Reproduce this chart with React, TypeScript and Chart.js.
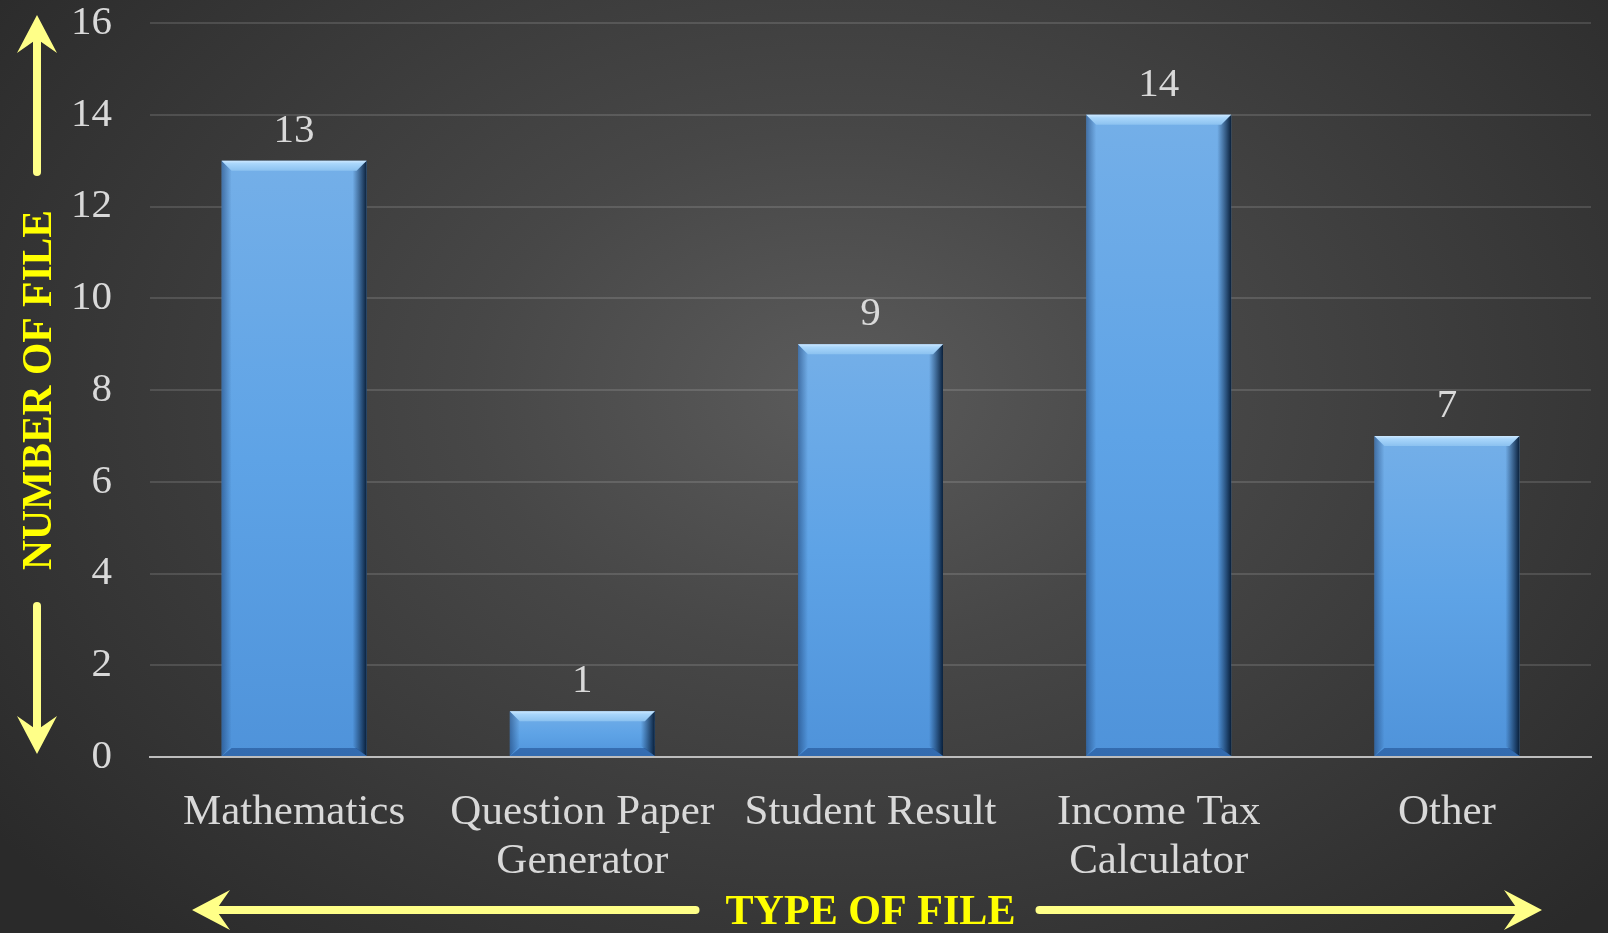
import React, { useEffect, useRef } from "react";
import { Chart, registerables } from "chart.js";

Chart.register(...registerables);

// ---- data ----
const categories: string[][] = [
  ["Mathematics"],
  ["Question Paper", "Generator"],
  ["Student Result"],
  ["Income Tax", "Calculator"],
  ["Other"],
];
const fileCounts: number[] = [13, 1, 9, 14, 7];
const yMin = 0;
const yMax = 16;
const yStep = 2;
const yTitle = "NUMBER OF FILE";
const xTitle = "TYPE OF FILE";

const SERIF = "'Liberation Serif', 'Times New Roman', serif";
const YELLOW = "#ffff00";
const ARROW = "#ffff88";
const LABEL = "#d9d9d9";

function drawArrow(ctx: CanvasRenderingContext2D, x1: number, y1: number, x2: number, y2: number) {
  const dx = x2 - x1;
  const dy = y2 - y1;
  const len = Math.hypot(dx, dy);
  const ux = dx / len;
  const uy = dy / len;
  const px = -uy;
  const py = ux;
  const headLen = 38;
  const notch = 24;
  const half = 20;
  ctx.save();
  ctx.strokeStyle = ARROW;
  ctx.fillStyle = ARROW;
  ctx.lineWidth = 8;
  ctx.lineCap = "round";
  ctx.beginPath();
  ctx.moveTo(x1, y1);
  ctx.lineTo(x2 - ux * notch, y2 - uy * notch);
  ctx.stroke();
  ctx.beginPath();
  ctx.moveTo(x2, y2);
  ctx.lineTo(x2 - ux * headLen + px * half, y2 - uy * headLen + py * half);
  ctx.lineTo(x2 - ux * notch, y2 - uy * notch);
  ctx.lineTo(x2 - ux * headLen - px * half, y2 - uy * headLen - py * half);
  ctx.closePath();
  ctx.fill();
  ctx.restore();
}

function drawCondensed(ctx: CanvasRenderingContext2D, text: string, cx: number, cy: number, targetW: number, rot: number) {
  ctx.save();
  ctx.translate(cx, cy);
  ctx.rotate(rot);
  const w = ctx.measureText(text).width;
  ctx.scale(targetW / w, 1);
  ctx.textAlign = "center";
  ctx.textBaseline = "middle";
  ctx.fillText(text, 0, 0);
  ctx.restore();
}

const decorPlugin = {
  id: "decor",
  afterDatasetsDraw(chart: any) {
    const ctx: CanvasRenderingContext2D = chart.ctx;
    const meta = chart.getDatasetMeta(0);
    const data = chart.data.datasets[0].data as number[];
    meta.data.forEach((bar: any, i: number) => {
      const { x, y, base, width } = bar.getProps(["x", "y", "base", "width"], true);
      const l = x - width / 2;
      const r = x + width / 2;
      const s = 10;
      ctx.save();
      // left bevel
      let g = ctx.createLinearGradient(l, 0, l + s, 0);
      g.addColorStop(0, "rgba(25,60,110,0.55)");
      g.addColorStop(1, "rgba(25,60,110,0)");
      ctx.fillStyle = g;
      ctx.beginPath();
      ctx.moveTo(l, y);
      ctx.lineTo(l + s, y + s);
      ctx.lineTo(l + s, base - s);
      ctx.lineTo(l, base);
      ctx.closePath();
      ctx.fill();
      // right bevel
      g = ctx.createLinearGradient(r - s - 4, 0, r, 0);
      g.addColorStop(0, "rgba(10,35,70,0)");
      g.addColorStop(1, "rgba(5,25,50,0.95)");
      ctx.fillStyle = g;
      ctx.beginPath();
      ctx.moveTo(r, y);
      ctx.lineTo(r, base);
      ctx.lineTo(r - s - 4, base - s);
      ctx.lineTo(r - s - 4, y + s);
      ctx.closePath();
      ctx.fill();
      // bottom bevel
      ctx.fillStyle = "rgba(30,75,140,0.55)";
      ctx.beginPath();
      ctx.moveTo(l, base);
      ctx.lineTo(r, base);
      ctx.lineTo(r - s, base - s + 2);
      ctx.lineTo(l + s, base - s + 2);
      ctx.closePath();
      ctx.fill();
      // top bevel
      g = ctx.createLinearGradient(0, y, 0, y + s);
      g.addColorStop(0, "#cfe9ff");
      g.addColorStop(0.3, "#a9d6fb");
      g.addColorStop(1, "#8cc2f0");
      ctx.fillStyle = g;
      ctx.beginPath();
      ctx.moveTo(l, y);
      ctx.lineTo(r, y);
      ctx.lineTo(r - s, y + s);
      ctx.lineTo(l + s, y + s);
      ctx.closePath();
      ctx.fill();
      ctx.restore();

      // value label
      ctx.save();
      ctx.fillStyle = LABEL;
      ctx.font = `41px ${SERIF}`;
      ctx.textAlign = "center";
      ctx.textBaseline = "alphabetic";
      ctx.fillText(String(data[i]), x, y - 19);
      ctx.restore();
    });
  },
  afterDraw(chart: any) {
    const ctx: CanvasRenderingContext2D = chart.ctx;
    const ca = chart.chartArea;
    // y-axis arrows
    drawArrow(ctx, 37, 172, 37, 15);
    drawArrow(ctx, 37, 606, 37, 754);
    // x-axis arrows
    const midX = (ca.left + ca.right) / 2;
    drawArrow(ctx, midX - 175, 910, 192, 910);
    drawArrow(ctx, midX + 169, 910, 1542, 910);
    // titles
    ctx.save();
    ctx.fillStyle = YELLOW;
    ctx.font = `bold 43px ${SERIF}`;
    drawCondensed(ctx, yTitle, 40, (ca.top + ca.bottom) / 2, 360, -Math.PI / 2);
    ctx.font = `bold 43px ${SERIF}`;
    drawCondensed(ctx, xTitle, midX, 913, 290, 0);
    ctx.restore();
  },
};

export default function App() {
  const ref = useRef<HTMLCanvasElement | null>(null);
  useEffect(() => {
    if (!ref.current) return;
    const chart = new Chart(ref.current, {
      type: "bar",
      data: {
        labels: categories,
        datasets: [
          {
            data: fileCounts,
            barPercentage: 0.503,
            categoryPercentage: 1,
            borderWidth: 0,
            backgroundColor: (c: any) => {
              const chartObj = c.chart;
              const ca = chartObj.chartArea;
              if (!ca || c.parsed == null) return "#5b9fe3";
              const yScale = chartObj.scales.y;
              const top = yScale.getPixelForValue(c.parsed.y);
              const bottom = yScale.getPixelForValue(0);
              const g = chartObj.ctx.createLinearGradient(0, top, 0, bottom);
              g.addColorStop(0, "#74afe8");
              g.addColorStop(0.5, "#5ea3e6");
              g.addColorStop(1, "#4f93da");
              return g;
            },
          },
        ],
      },
      options: {
        animation: false,
        responsive: true,
        maintainAspectRatio: false,
        layout: { padding: { top: 23, right: 17, left: 0, bottom: 0 } },
        plugins: {
          legend: { display: false },
          tooltip: { enabled: false },
        },
        scales: {
          x: {
            grid: { display: false, drawTicks: false },
            border: { display: true, color: "#bdbdbd", width: 2 },
            ticks: {
              color: LABEL,
              font: { family: SERIF, size: 43, lineHeight: 1.12 },
              padding: 32,
              maxRotation: 0,
              autoSkip: false,
            },
            afterFit: (s: any) => {
              s.height = 176;
              s.paddingLeft = 0;
              s.paddingRight = 0;
            },
          },
          y: {
            min: yMin,
            max: yMax,
            grid: { color: "rgba(255,255,255,0.13)", lineWidth: 2, drawTicks: false },
            border: { display: false },
            ticks: {
              stepSize: yStep,
              color: LABEL,
              font: { family: SERIF, size: 41 },
              padding: 38,
            },
            afterFit: (s: any) => {
              s.width = 150;
              s.paddingTop = 0;
              s.paddingBottom = 0;
            },
          },
        },
      },
      plugins: [decorPlugin],
    });
    return () => chart.destroy();
  }, []);

  return (
    <div
      style={{
        position: "fixed",
        left: 0,
        top: 0,
        width: 1608,
        height: 933,
        background:
          "radial-gradient(ellipse 65% 80% at 52% 42%, #5b5b5b 0%, #474747 35%, #2a2a2a 100%)",
      }}
    >
      <canvas ref={ref} />
    </div>
  );
}
